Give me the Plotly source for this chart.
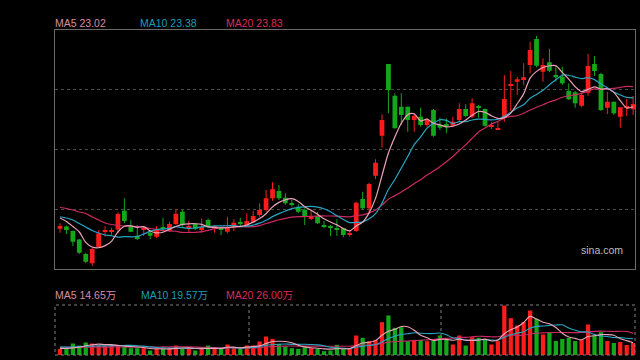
import plotly.graph_objects as go
import pandas as pd

# ---- daily OHLC (price units) ----
opens = [18.15, 18.24, 18.06, 17.72, 17.14, 16.77, 17.42, 18.04, 18.04, 18.12,
         18.87, 18.27, 17.87, 18.10, 17.99, 17.83, 18.16, 18.06, 18.34, 18.83,
         18.20, 18.35, 18.10, 18.50, 18.18, 18.11, 18.03, 18.24, 18.38, 18.26,
         18.43, 18.70, 18.90, 19.37, 19.66, 19.39, 19.14, 19.03, 18.90, 18.54,
         18.66, 18.24, 18.20, 18.11, 18.17, 17.92, 18.06, 19.34, 18.97, 20.27,
         21.87, 24.74, 23.47, 23.03, 23.03, 22.50, 22.63, 22.30, 22.90, 22.30,
         22.34, 22.27, 22.50, 22.94, 22.63, 23.02, 22.94, 22.22, 22.12, 22.61,
         23.89, 24.03, 24.10, 24.70, 25.74, 24.43, 24.81, 24.30, 24.23, 23.66,
         23.61, 23.07, 23.59, 24.74, 24.34, 22.99, 23.23, 22.63, 22.98, 22.93]
closes = [18.26, 18.10, 17.63, 17.19, 16.83, 17.34, 17.96, 18.05, 18.05, 18.74,
          18.46, 18.03, 17.74, 18.20, 17.87, 18.10, 18.14, 18.34, 18.75, 18.30,
          18.21, 18.15, 18.22, 18.25, 18.19, 18.10, 18.19, 18.39, 18.37, 18.46,
          18.66, 18.90, 19.37, 19.73, 19.37, 19.17, 19.12, 18.83, 18.66, 18.66,
          18.37, 18.22, 18.18, 18.10, 17.90, 17.93, 19.19, 18.97, 19.94, 20.79,
          22.50, 23.70, 22.17, 22.70, 22.50, 22.67, 22.30, 22.50, 21.87, 22.19,
          22.26, 22.43, 22.94, 22.66, 23.17, 23.00, 22.27, 22.24, 22.13, 23.34,
          23.91, 24.13, 24.21, 25.30, 24.67, 24.70, 24.47, 24.21, 23.97, 23.33,
          23.17, 23.50, 24.66, 24.46, 22.90, 23.23, 22.77, 23.01, 23.00, 23.14]
highs = [18.37, 18.28, 18.08, 17.74, 17.19, 17.39, 18.09, 18.26, 18.19, 18.81,
         19.37, 18.50, 18.30, 18.24, 18.10, 18.26, 18.58, 18.43, 18.92, 18.90,
         18.47, 18.39, 18.56, 18.56, 18.26, 18.21, 18.63, 18.53, 18.59, 18.77,
         18.86, 19.17, 19.70, 20.01, 19.90, 19.57, 19.30, 19.13, 18.97, 18.90,
         18.83, 18.46, 18.30, 18.53, 18.18, 18.08, 19.23, 19.63, 19.99, 20.93,
         22.73, 24.74, 23.57, 23.57, 23.04, 22.77, 22.99, 22.57, 22.94, 22.59,
         22.57, 22.63, 23.17, 23.13, 23.37, 23.10, 22.96, 22.43, 22.43, 24.30,
         24.46, 24.23, 24.77, 25.63, 25.86, 24.97, 25.34, 24.70, 24.63, 23.97,
         23.66, 23.57, 25.14, 25.06, 24.39, 23.63, 23.24, 23.02, 23.34, 23.46]
lows = [17.99, 17.94, 17.46, 17.14, 16.77, 16.67, 17.40, 17.83, 17.90, 17.97,
        18.37, 18.02, 17.70, 17.86, 17.73, 17.77, 18.03, 18.03, 18.30, 18.23,
        18.03, 18.10, 17.98, 18.17, 17.99, 17.90, 17.97, 18.06, 18.24, 18.23,
        18.39, 18.63, 18.83, 19.27, 19.30, 19.10, 19.03, 18.77, 18.30, 18.50,
        18.34, 18.17, 17.86, 17.86, 17.81, 17.83, 18.03, 18.90, 18.83, 20.14,
        21.39, 22.77, 22.16, 22.30, 22.03, 22.03, 22.23, 22.23, 21.83, 22.10,
        21.97, 22.23, 22.46, 22.61, 22.57, 22.59, 22.23, 22.14, 22.10, 22.43,
        22.86, 23.50, 23.90, 24.37, 24.61, 24.03, 24.41, 24.03, 23.90, 23.30,
        22.99, 23.01, 23.47, 24.26, 22.86, 22.74, 22.70, 22.19, 22.66, 22.70]
# volume in 万 (10k shares)
volumes = [7.4, 7.4, 13.8, 11.4, 15.0, 13.8, 11.4, 10.6, 11.4, 10.6,
           9.4, 8.2, 8.2, 8.2, 5.4, 7.4, 7.4, 8.2, 11.4, 7.4,
           8.2, 5.4, 7.4, 11.4, 7.4, 7.4, 12.6, 8.2, 7.4, 11.4,
           11.4, 16.2, 22.2, 19.4, 13.4, 10.2, 8.2, 7.4, 9.4, 8.2,
           7.4, 4.6, 5.4, 12.2, 8.2, 7.4, 23.4, 20.6, 16.6, 18.2,
           39.4, 47.4, 32.6, 33.4, 16.6, 18.2, 18.2, 16.6, 17.4, 23.4,
           18.2, 12.6, 23.4, 11.4, 21.4, 20.6, 18.2, 12.6, 16.6, 59.4,
           44.2, 35.4, 39.4, 53.4, 43.4, 24.6, 26.6, 16.8, 19.2, 20.4,
           16.8, 18.0, 36.6, 23.4, 27.4, 16.8, 14.4, 15.6, 12.0, 14.4]

# moving-average values at the left edge (before a full window is visible)
ma5_head = [18.58, 18.44, 18.24, 18.02]
ma10_head = [18.63, 18.58, 18.50, 18.36, 18.22, 18.08, 17.98, 17.90, 17.87]
ma20_head = [19.00, 18.96, 18.90, 18.82, 18.76, 18.62, 18.50, 18.38, 18.32, 18.28,
             18.26, 18.25, 18.24, 18.22, 18.16, 18.12, 18.08, 18.06, 18.05]
vma5_head = [8.0, 7.8, 8.6, 9.2]
vma10_head = [9.4, 9.5, 9.8, 10.0, 10.4, 10.7, 10.9, 11.0, 11.2]
vma20_head = [9.2, 9.2, 9.3, 9.3, 9.4, 9.4, 9.5, 9.5, 9.5, 9.6,
              9.6, 9.6, 9.6, 9.6, 9.6, 9.6, 9.7, 9.7, 9.7]

price_labels = ["MA5 23.02", "MA10 23.38", "MA20 23.83"]
volume_labels = ["MA5 14.65万", "MA10 19.57万", "MA20 26.00万"]
source_label = "sina.com"
grid_prices = [18.92, 21.32, 23.72]
separators = [29.35, 59.16]

RED = "#fb1c1c"
GREEN = "#12a81a"
C_MA5 = "#eaa3b8"
C_MA10 = "#27a6c4"
C_MA20 = "#cc2a62"
T_MA5 = "#d98ca3"
T_MA10 = "#1d9db6"
T_MA20 = "#dc2a5e"
FONT = "Liberation Sans, Arial, Noto Sans CJK SC, sans-serif"

n = len(closes)
idx = list(range(n))
up = [c >= o for o, c in zip(opens, closes)]
colors = [RED if u else GREEN for u in up]


def moving(series, w, head):
    s = pd.Series(series).rolling(w).mean().tolist()
    s[:w - 1] = head
    return s


fig = go.Figure()

# wicks
for col, flag in ((RED, True), (GREEN, False)):
    xs, ys = [], []
    for i in idx:
        if up[i] == flag:
            xs += [i, i, None]
            ys += [lows[i], highs[i], None]
    fig.add_trace(go.Scatter(x=xs, y=ys, mode="lines", line=dict(color=col, width=1),
                             hoverinfo="skip", xaxis="x", yaxis="y"))

# bodies
base = [min(o, c) for o, c in zip(opens, closes)]
height = [max(abs(c - o), 0.045) for o, c in zip(opens, closes)]
fig.add_trace(go.Bar(x=idx, y=height, base=base, width=0.74, marker=dict(color=colors, line=dict(width=0)),
                     xaxis="x", yaxis="y"))

# price MAs
for w, head, col in ((20, ma20_head, C_MA20), (10, ma10_head, C_MA10), (5, ma5_head, C_MA5)):
    fig.add_trace(go.Scatter(x=idx, y=moving(closes, w, head), mode="lines",
                             line=dict(color=col, width=1.2, shape="spline", smoothing=0.8),
                             xaxis="x", yaxis="y"))

# volume
fig.add_trace(go.Bar(x=idx, y=volumes, width=0.66, marker=dict(color=colors, line=dict(width=0)),
                     xaxis="x2", yaxis="y2"))
for w, head, col in ((20, vma20_head, C_MA20), (10, vma10_head, C_MA10), (5, vma5_head, C_MA5)):
    fig.add_trace(go.Scatter(x=idx, y=moving(volumes, w, head), mode="lines",
                             line=dict(color=col, width=1.1, shape="spline", smoothing=0.8),
                             xaxis="x2", yaxis="y2"))

xr = [-0.776, 89.29]
fig.update_layout(
    width=640, height=360,
    margin=dict(l=55, r=5, t=30, b=5),
    paper_bgcolor="#000000", plot_bgcolor="#000000",
    showlegend=False, hovermode=False, barmode="overlay",
    font=dict(family=FONT),
    xaxis=dict(domain=[0, 1], anchor="y", range=xr, showgrid=False, zeroline=False,
               showticklabels=False, ticks="", showline=True, mirror=True,
               linecolor="#6a6a6a", linewidth=1),
    yaxis=dict(domain=[0.2646, 1], anchor="x", range=[16.54, 26.10], tickvals=grid_prices,
               showticklabels=False, ticks="", showgrid=True, gridcolor="#4a4a4a",
               griddash="dot", gridwidth=1, zeroline=False, showline=True, mirror=True,
               linecolor="#6a6a6a", linewidth=1),
    xaxis2=dict(domain=[0, 1], anchor="y2", range=xr, showgrid=False, zeroline=False,
                showticklabels=False, ticks="", showline=False),
    yaxis2=dict(domain=[0, 0.15385], anchor="x2", range=[0, 60], showgrid=False,
                zeroline=False, showticklabels=False, ticks="", showline=False),
)

shapes = [dict(type="rect", xref="x2 domain", yref="y2 domain", x0=0, x1=1, y0=0, y1=1,
               line=dict(color="#808080", width=1, dash="dot"), layer="above")]
for s in separators:
    shapes.append(dict(type="line", xref="x2", yref="y2 domain", x0=s, x1=s, y0=0, y1=1,
                       line=dict(color="#808080", width=1, dash="dot"), layer="below"))
fig.update_layout(shapes=shapes)

annots = []
for txt, xp, col in zip(price_labels, (-0.004, 0.1431, 0.2908), (T_MA5, T_MA10, T_MA20)):
    annots.append(dict(text=txt, xref="paper", yref="paper", x=xp, y=1.02, xanchor="left",
                       yanchor="middle", showarrow=False, font=dict(size=10.5, color=col, family=FONT)))
for txt, xp, col in zip(volume_labels, (-0.004, 0.1443, 0.2908), (T_MA5, T_MA10, T_MA20)):
    annots.append(dict(text=txt, xref="paper", yref="paper", x=xp, y=0.1846, xanchor="left",
                       yanchor="middle", showarrow=False, font=dict(size=10.5, color=col, family=FONT)))
annots.append(dict(text=source_label, xref="paper", yref="paper", x=0.904, y=0.3246, xanchor="left",
                   yanchor="middle", showarrow=False, font=dict(size=10.5, color="#bdbdbd", family=FONT)))
fig.update_layout(annotations=annots)

fig.write_html("out.html", config={"displayModeBar": False},
               post_script="document.body.style.margin='0';document.body.style.background='#000';")
